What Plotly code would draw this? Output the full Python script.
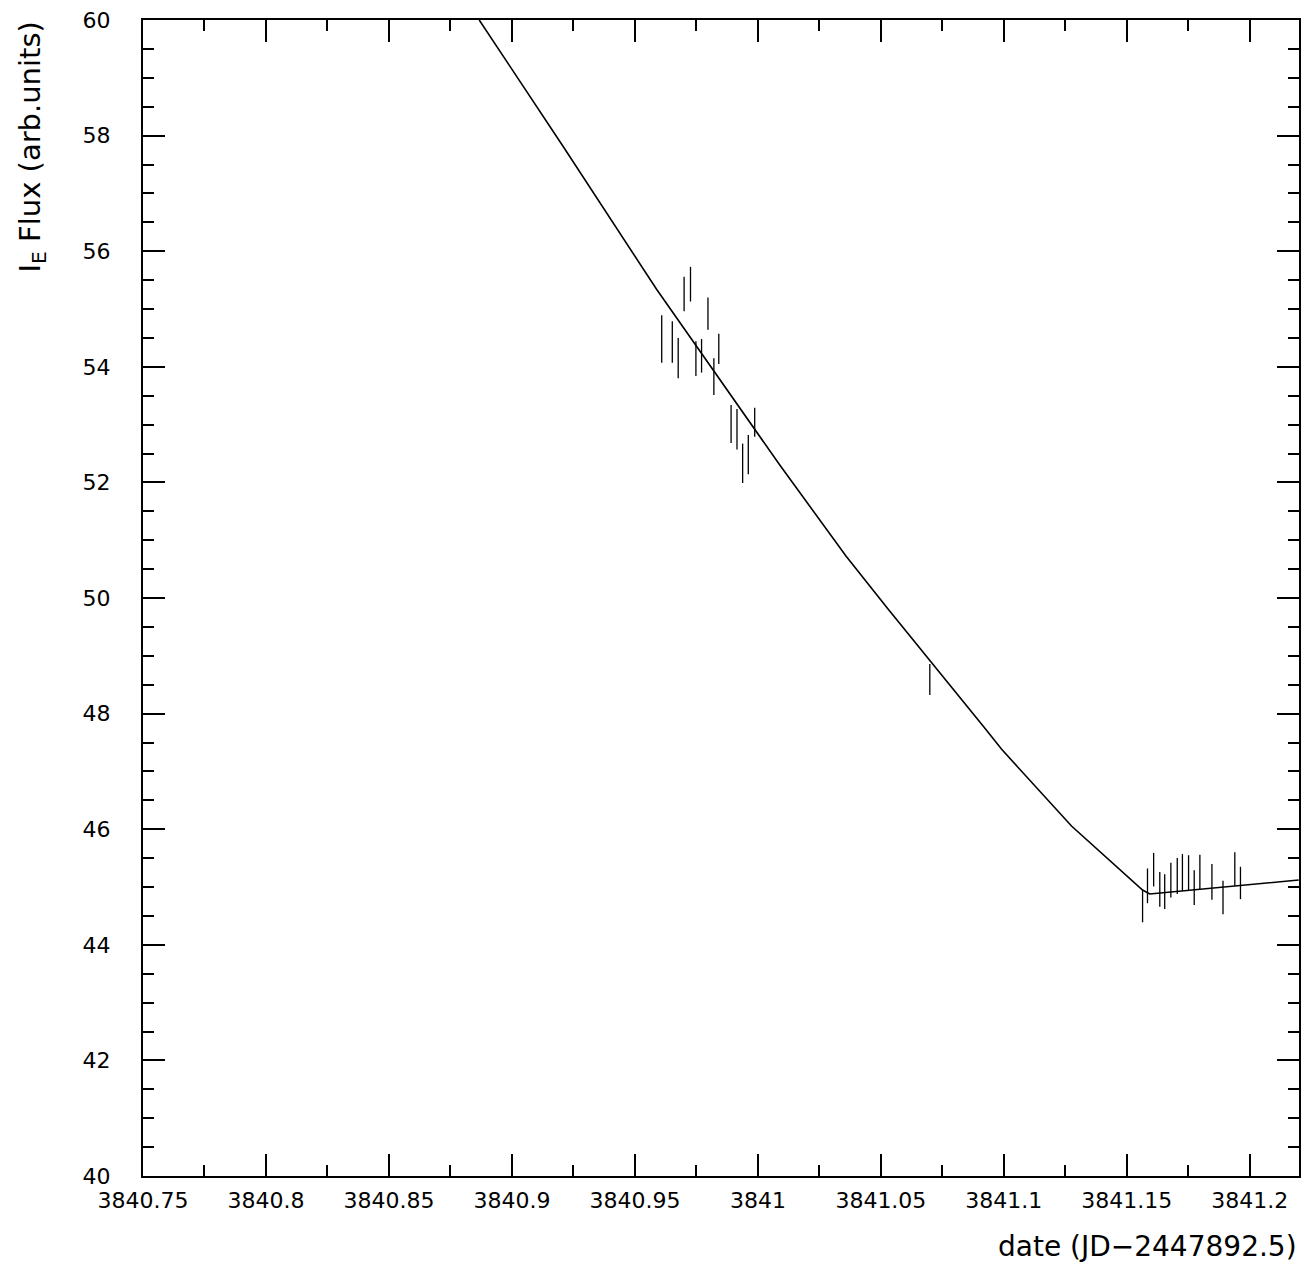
import plotly.graph_objects as go

# measured points (date, flux, error)
dates = [3840.9609, 3840.9652, 3840.9676, 3840.9700, 3840.9726, 3840.9748, 3840.9771,
         3840.9797, 3840.9821, 3840.9841, 3840.9891, 3840.9915, 3840.9938, 3840.9961,
         3840.9987, 3841.0699, 3841.1564, 3841.1584, 3841.1609, 3841.1634, 3841.1654,
         3841.1679, 3841.1705, 3841.1726, 3841.1751, 3841.1774, 3841.1797, 3841.1846,
         3841.1891, 3841.1939, 3841.1962]
flux = [54.48, 54.43, 54.15, 55.26, 55.43, 54.14, 54.19, 54.92, 53.83, 54.31, 53.01,
        52.92, 52.33, 52.48, 53.04, 48.59, 44.67, 45.02, 45.30, 44.96, 44.92, 45.12,
        45.19, 45.25, 45.24, 44.99, 45.26, 45.09, 44.82, 45.31, 45.07]
flux_err = [0.41, 0.36, 0.35, 0.30, 0.30, 0.30, 0.29, 0.28, 0.32, 0.26, 0.33, 0.35,
            0.34, 0.34, 0.25, 0.27, 0.28, 0.30, 0.29, 0.30, 0.30, 0.30, 0.31, 0.32,
            0.31, 0.30, 0.30, 0.31, 0.29, 0.29, 0.28]

# fitted model curve
fit_dates = [3840.8867, 3840.9209, 3840.9588, 3841.0089, 3841.0358, 3841.0530,
             3841.0923, 3841.0991, 3841.1275, 3841.1564, 3841.1593, 3841.2199]
fit_flux = [60.0, 57.808, 55.341, 52.301, 50.727, 49.804, 47.746, 47.382, 46.055,
            44.948, 44.879, 45.121]

# axis ticks
x_tickvals = [3840.75, 3840.8, 3840.85, 3840.9, 3840.95, 3841.0, 3841.05, 3841.1,
              3841.15, 3841.2]
x_ticktext = ["3840.75", "3840.8", "3840.85", "3840.9", "3840.95", "3841",
              "3841.05", "3841.1", "3841.15", "3841.2"]
y_tickvals = [40, 42, 44, 46, 48, 50, 52, 54, 56, 58, 60]
y_ticktext = ["40", "42", "44", "46", "48", "50", "52", "54", "56", "58", "60"]

x_range = [3840.75, 3841.22]
y_range = [40, 60]

FONT = "DejaVu Sans"

fig = go.Figure()
fig.add_trace(go.Scatter(
    x=fit_dates, y=fit_flux, mode="lines",
    line=dict(color="black", width=1.6), showlegend=False, cliponaxis=True))
fig.add_trace(go.Scatter(
    x=dates, y=flux, mode="markers",
    marker=dict(color="rgba(0,0,0,0)", size=2),
    error_y=dict(type="data", array=flux_err, visible=True, color="black",
                 thickness=1.3, width=0),
    showlegend=False))

axis_common = dict(
    showline=True, linecolor="black", linewidth=2, mirror="allticks",
    ticks="inside", tickcolor="black", tickwidth=1.5, ticklen=22,
    showgrid=False, zeroline=False, automargin=False,
    tickfont=dict(family=FONT, size=22, color="black"),
)

fig.update_xaxes(range=x_range, tickmode="array", tickvals=x_tickvals,
                 ticktext=x_ticktext,
                 minor=dict(ticks="inside", tickmode="linear", dtick=0.025,
                            tick0=3840.75, ticklen=11,
                            tickcolor="black", tickwidth=1.5, showgrid=False),
                 ticklabelstandoff=4, **axis_common)
fig.update_yaxes(range=y_range, tickmode="array", tickvals=y_tickvals,
                 ticktext=y_ticktext,
                 minor=dict(ticks="inside", tickmode="linear", dtick=0.5, tick0=40,
                            ticklen=11,
                            tickcolor="black", tickwidth=1.5, showgrid=False),
                 ticklabelstandoff=26, **axis_common)

fig.add_annotation(text="date (JD\u22122447892.5)", xref="paper", yref="paper",
                   x=1.0, y=0, xanchor="right", yanchor="middle", yshift=-70,
                   showarrow=False, font=dict(family=FONT, size=28, color="black"))
fig.add_annotation(text="I<sub>E</sub> Flux (arb.units)", xref="paper", yref="paper",
                   x=0, y=1.0, xanchor="center", yanchor="top", xshift=-112,
                   textangle=-90, showarrow=False,
                   font=dict(family=FONT, size=29, color="black"))

fig.update_layout(
    width=1309, height=1268,
    margin=dict(l=143, r=10, t=20, b=92, autoexpand=False),
    paper_bgcolor="white", plot_bgcolor="white",
)

fig.write_html("out.html", config={"displayModeBar": False},
               post_script="document.body.style.margin='0';document.body.style.overflow='hidden';")
